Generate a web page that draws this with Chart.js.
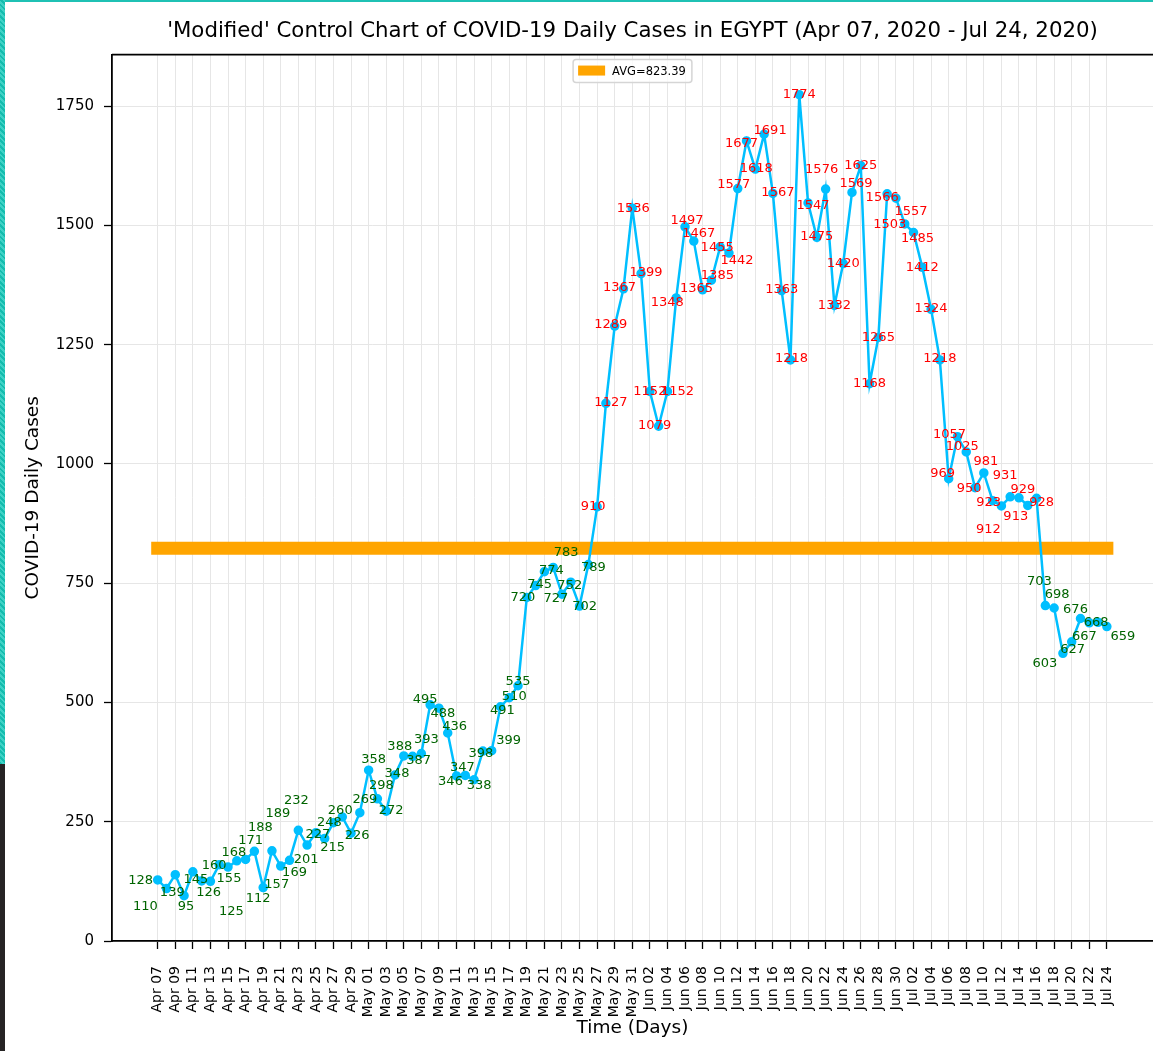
<!DOCTYPE html>
<html>
<head>
<meta charset="utf-8">
<title>Control Chart of COVID-19 Daily Cases in EGYPT</title>
<script src="https://cdn.jsdelivr.net/npm/chart.js@4/dist/chart.umd.min.js"></script>
<style>
  body { margin: 0; background: #fff; }
  #wrap { position: relative; width: 1153px; height: 1051px; overflow: hidden; }
  #chart { display: block; }
  #topEdge { position: absolute; left: 0; top: 0; width: 1153px; height: 2px; background: #1fc1b4; }
  #leftEdge { position: absolute; left: 0; top: 0; width: 5px; height: 764px;
    background: repeating-linear-gradient(45deg, #14bcae 0 2px, #3fd2c6 2px 4px); }
  #leftDark { position: absolute; left: 0; top: 764px; width: 5px; height: 287px; background: #262324; }
</style>
</head>
<body>
<div id="wrap">
  <canvas id="chart" width="1153" height="1051"></canvas>
  <div id="topEdge"></div>
  <div id="leftEdge"></div>
  <div id="leftDark"></div>
</div>
<script>
// Daily new cases, Apr 07 - Jul 24, 2020
const aprCases = [128, 110, 139, 95, 145, 126, 125, 160, 155, 168, 171, 188, 112, 189, 157, 169, 232, 201, 227, 215, 248, 260, 226, 269];
const mayCases = [358, 298, 272, 348, 388, 387, 393, 495, 488, 436, 346, 347, 338, 398, 399, 491, 510, 535, 720, 745, 774, 783, 727, 752, 702, 789, 910, 1127, 1289, 1367, 1536];
const junCases = [1399, 1152, 1079, 1152, 1348, 1497, 1467, 1365, 1385, 1455, 1442, 1577, 1677, 1618, 1691, 1567, 1363, 1218, 1774, 1547, 1475, 1576, 1332, 1420, 1569, 1625, 1168, 1265, 1566, 1557];
const julCases = [1503, 1485, 1412, 1324, 1218, 969, 1057, 1025, 950, 981, 923, 912, 931, 929, 913, 928, 703, 698, 603, 627, 676, 667, 668, 659];

const tickLabels = [
  "Apr 07", "Apr 09", "Apr 11", "Apr 13", "Apr 15", "Apr 17", "Apr 19", "Apr 21", "Apr 23", "Apr 25", "Apr 27", "Apr 29",
  "May 01", "May 03", "May 05", "May 07", "May 09", "May 11", "May 13", "May 15", "May 17", "May 19", "May 21", "May 23", "May 25", "May 27", "May 29", "May 31",
  "Jun 02", "Jun 04", "Jun 06", "Jun 08", "Jun 10", "Jun 12", "Jun 14", "Jun 16", "Jun 18", "Jun 20", "Jun 22", "Jun 24", "Jun 26", "Jun 28", "Jun 30",
  "Jul 02", "Jul 04", "Jul 06", "Jul 08", "Jul 10", "Jul 12", "Jul 14", "Jul 16", "Jul 18", "Jul 20", "Jul 22", "Jul 24"
];
const yTicks = [0, 250, 500, 750, 1000, 1250, 1500, 1750];
const AVG = 823.39;

// label nudges (px) so the value texts don't pile on top of each other
const labelShift = [
  [-17, 1], [-21, 18], [-3, 18], [2, 11], [3, 8], [7, 12], [21, 30], [-5, 1], [1, 12], [-3, -8],
  [5, -19], [6, -24], [-5, 11], [6, -37], [-4, 19], [5, 12], [-2, -30], [-1, 15], [2, 2], [8, 9],
  [-4, 0], [-2, -6], [6, 2], [5, -13], [5, -11], [4, -13], [5, -1], [2, -1], [-4, -9], [6, 4],
  [5, -14], [-5, -5], [4, 5], [7, -6], [-6, 6], [-3, -8], [5, 6], [-2, 3], [17, -10], [2, 4],
  [5, -1], [0, -4], [-4, 0], [4, -1], [7, -1], [13, -15], [-6, 4], [-1, 3], [5, 1], [5, 3],
  [-4, 0], [5, -1], [-4, -1], [-4, -1], [1, 0], [5, -1], [0, 0], [-4, -1], [10, 0], [-9, 5],
  [2, -6], [5, -7], [-6, -1], [6, -5], [-3, 1], [8, 8], [-4, -4], [-5, 3], [1, 0], [6, -4],
  [5, -1], [0, -1], [1, -1], [0, 0], [5, 3], [0, -1], [-4, -19], [0, 0], [0, 0], [4, -9],
  [0, 0], [0, 0], [0, 0], [-5, 4], [15, 13], [-15, 1], [4, 6], [0, 0], [0, -1], [0, -1],
  [-6, -5], [-8, -2], [-4, -5], [-6, 1], [2, -11], [-4, 2], [-13, 24], [-5, -21], [4, -8], [-12, 11],
  [5, 4], [-6, -24], [3, -13], [-18, 10], [1, 8], [-5, -9], [-5, 14], [-2, 0], [16, 10]
];

const cases = [...aprCases, ...mayCases, ...junCases, ...julCases];
const lastDay = cases.length - 1;

Chart.defaults.font.family = "'DejaVu Sans', sans-serif";
Chart.defaults.color = "#000";

// value text next to every point, red above the average, green below
const valueLabels = {
  id: "valueLabels",
  afterDatasetsDraw(chart) {
    const ctx = chart.ctx;
    const meta = chart.getDatasetMeta(0);
    ctx.save();
    ctx.font = "13px 'DejaVu Sans'";
    ctx.textAlign = "center";
    ctx.textBaseline = "middle";
    meta.data.forEach((pt, i) => {
      ctx.fillStyle = cases[i] > AVG ? "#ff0000" : "#006400";
      ctx.fillText(String(cases[i]), pt.x + labelShift[i][0], pt.y + labelShift[i][1]);
    });
    ctx.restore();
  }
};

// matplotlib style top spine + legend box inside the axes
const frameAndLegend = {
  id: "frameAndLegend",
  afterDraw(chart) {
    const ctx = chart.ctx;
    const area = chart.chartArea;
    ctx.save();
    ctx.strokeStyle = "#000";
    ctx.lineWidth = 1.8;
    ctx.beginPath();
    ctx.moveTo(area.left, area.top);
    ctx.lineTo(area.right, area.top);
    ctx.stroke();

    const text = chart.data.datasets[1].label;
    ctx.font = "11.5px 'DejaVu Sans'";
    const tw = ctx.measureText(text).width;
    const w = 5 + 27 + 7 + tw + 6;
    const h = 23;
    const x = (area.left + area.right) / 2 - w / 2;
    const y = area.top + 5;
    ctx.beginPath();
    ctx.roundRect(x, y, w, h, 3);
    ctx.fillStyle = "rgba(255,255,255,0.8)";
    ctx.fill();
    ctx.strokeStyle = "#d5d5d5";
    ctx.lineWidth = 1.5;
    ctx.stroke();
    ctx.fillStyle = chart.data.datasets[1].borderColor;
    ctx.fillRect(x + 5, y + 6, 27, 10);
    ctx.fillStyle = "#000";
    ctx.textBaseline = "middle";
    ctx.fillText(text, x + 5 + 27 + 7, y + h / 2 + 0.5);
    ctx.restore();
  }
};

new Chart(document.getElementById("chart").getContext("2d"), {
  type: "line",
  data: {
    datasets: [{
      label: "Daily Cases",
      data: cases.map((v, i) => ({ x: i, y: v })),
      borderColor: "#00bfff",
      backgroundColor: "#00bfff",
      borderWidth: 2.5,
      pointRadius: 3.5,
      pointHoverRadius: 3.5,
      tension: 0
    }, {
      label: "AVG=" + AVG.toFixed(2),
      data: [{ x: 0, y: AVG }, { x: lastDay, y: AVG }],
      borderColor: "#ffa500",
      borderWidth: 13,
      borderCapStyle: "square",
      pointRadius: 0
    }]
  },
  options: {
    responsive: false,
    animation: false,
    layout: { padding: 0, autoPadding: false },
    plugins: {
      legend: { display: false },
      tooltip: { enabled: false },
      title: {
        display: true,
        text: "'Modified' Control Chart of COVID-19 Daily Cases in EGYPT (Apr 07, 2020 - Jul 24, 2020)",
        fullSize: false,
        color: "#000",
        font: { size: 21.3, weight: "normal" },
        padding: { top: 19, bottom: 10 }
      }
    },
    scales: {
      x: {
        type: "linear",
        min: -5.2,
        max: 113.25,
        afterBuildTicks: (scale) => {
          scale.ticks = tickLabels.map((_, k) => ({ value: 2 * k }));
        },
        afterFit: (scale) => {
          scale.height = 110;
          scale.paddingLeft = 0;
          scale.paddingRight = 0;
        },
        ticks: {
          autoSkip: false,
          minRotation: 90,
          maxRotation: 90,
          padding: 17,
          font: { size: 14 },
          callback: (value) => tickLabels[value / 2]
        },
        grid: { color: "#e6e6e6", lineWidth: 1, tickColor: "#000", tickLength: 8, tickWidth: 1.3 },
        border: { color: "#000", width: 1.8 },
        title: {
          display: true,
          text: "Time (Days)",
          font: { size: 18.5 },
          padding: { top: 4, bottom: 12 }
        }
      },
      y: {
        min: 0,
        max: 1858,
        afterBuildTicks: (scale) => {
          scale.ticks = yTicks.map((v) => ({ value: v }));
        },
        afterFit: (scale) => {
          scale.width = 112;
          scale.paddingTop = 0;
          scale.paddingBottom = 0;
        },
        ticks: { padding: 10, font: { size: 15 }, callback: (value) => String(value) },
        grid: { color: "#e6e6e6", lineWidth: 1, tickColor: "#000", tickLength: 8, tickWidth: 1.3 },
        border: { color: "#000", width: 1.8 },
        title: {
          display: true,
          text: "COVID-19 Daily Cases",
          font: { size: 18.5 },
          padding: { top: 22, bottom: 4 }
        }
      }
    }
  },
  plugins: [valueLabels, frameAndLegend]
});
</script>
</body>
</html>
